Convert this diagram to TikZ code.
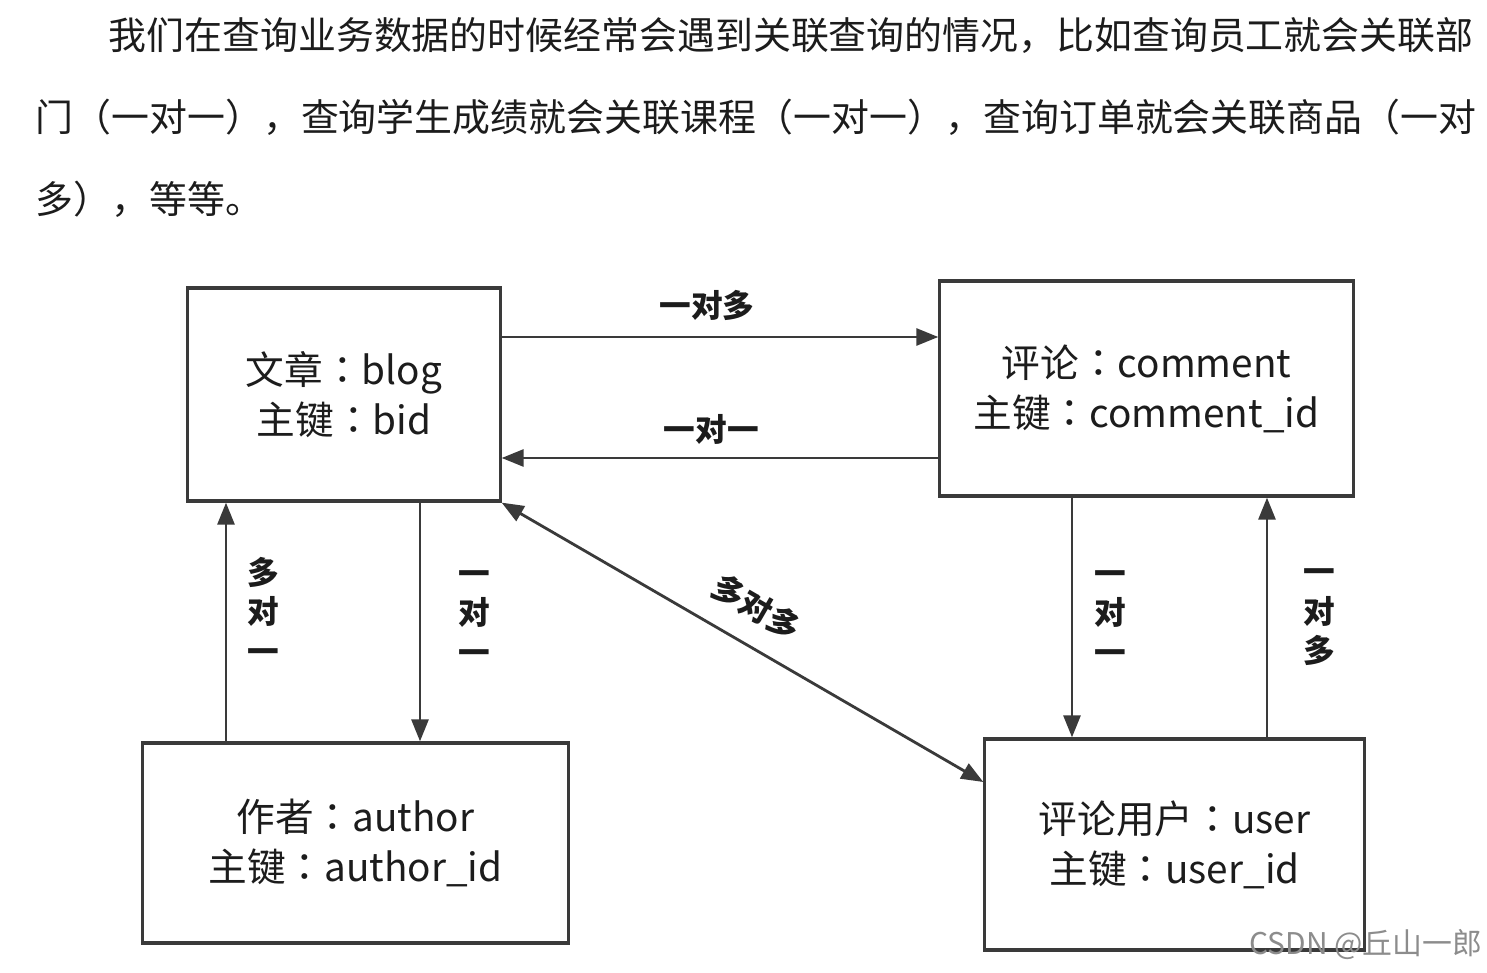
\documentclass[tikz,border=0pt]{standalone}
\usepackage{fontspec}
\setmainfont{Noto Sans CJK SC}
\newfontfamily\tcfont[Language=Chinese Traditional]{Noto Sans CJK SC}
\newcommand\kcolon{{\tcfont ：}}
\usetikzlibrary{positioning,calc}
\usetikzlibrary{arrows.meta}
\definecolor{LineGray}{RGB}{58,58,58}
\definecolor{InkBlack}{RGB}{28,28,28}
\tikzset{
  entity/.style={draw=LineGray,line width=0.9pt,fill=white,align=center,inner sep=0pt,
    font=\fontsize{11pt}{14.2pt}\selectfont,text=InkBlack},
  rel/.style={draw=LineGray,line width=0.8pt,-{Triangle[length=2.2mm,width=1.7mm]}},
  both/.style={draw=LineGray,line width=0.8pt,{Triangle[length=2.2mm,width=1.7mm]}-{Triangle[length=2.2mm,width=1.7mm]}},
  lab/.style={font=\bfseries\fontsize{9pt}{11.2pt}\selectfont,text=InkBlack,align=center,inner sep=1pt},
  para/.style={anchor=base west,inner sep=0pt,font=\fontsize{10.78pt}{12pt}\selectfont,text=InkBlack},
}

\begin{document}
\begin{tikzpicture}[x=0.01cm,y=-0.01cm]
\useasboundingbox[fill=white] (0,0) rectangle (1487,973);
% intro
\node[para] (line1) at (108,50) {我们在查询业务数据的时候经常会遇到关联查询的情况，比如查询员工就会关联部};
\node[para] (line2) at (35,132) {门（一对一），查询学生成绩就会关联课程（一对一），查询订单就会关联商品（一对};
\node[para] (line3) at (35,214) {多），等等。};
% tables
\node[entity,minimum width=3.12cm,minimum height=2.13cm] (blog) at (344,394.5) {文章\kcolon blog\\主键\kcolon bid};
\node[entity,minimum width=4.13cm,minimum height=2.15cm] (comment) at (1146.5,388.5) {评论\kcolon comment\\主键\kcolon comment\_id};
\node[entity,minimum width=4.25cm,minimum height=2.00cm] (author) at (355.5,843) {作者\kcolon author\\主键\kcolon author\_id};
\node[entity,minimum width=3.79cm,minimum height=2.11cm] (user) at (1174.5,844.5) {评论用户\kcolon user\\主键\kcolon user\_id};
% relations
\draw[rel] (blog.east |- 0,337) -- (comment.west |- 0,337) node[lab,pos=0.47,yshift=9pt] (l1) {一对多};
\draw[rel] (comment.west |- 0,458) -- (blog.east |- 0,458) node[lab,pos=0.52,yshift=8pt] (l2) {一对一};
\draw[rel] (author.north -| 226,0) -- (blog.south -| 226,0) node[lab,pos=0.55,xshift=10.5pt] (l3) {多\\对\\一};
\draw[rel] (blog.south -| 420,0) -- (author.north -| 420,0) node[lab,pos=0.48,xshift=15.4pt] (l4) {一\\对\\一};
\draw[rel] (comment.south -| 1072,0) -- (user.north -| 1072,0) node[lab,pos=0.50,xshift=10.8pt] (l5) {一\\对\\一};
\draw[rel] (user.north -| 1267,0) -- (comment.south -| 1267,0) node[lab,pos=0.50,xshift=15pt] (l6) {一\\对\\多};
\draw[both] (blog.south east) -- (user.west |- 0,782) node[lab,sloped,pos=0.49,above=5pt] (l7) {多对多};
% mark
\node[anchor=east,inner sep=0pt,text=black!45,font=\fontsize{8.5pt}{10pt}\selectfont] (mark) at (1483,945) {CSDN @丘山一郎};
\end{tikzpicture}
\end{document}
